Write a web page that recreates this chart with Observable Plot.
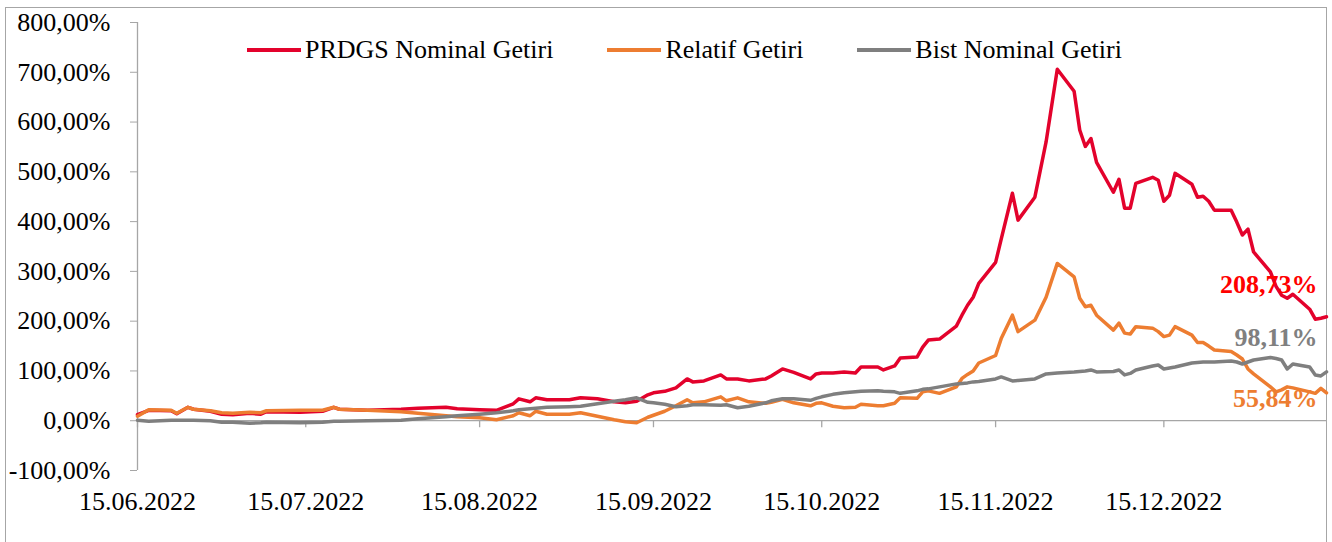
<!DOCTYPE html>
<html><head><meta charset="utf-8">
<script src="https://cdn.jsdelivr.net/npm/d3@7"></script>
<script src="https://cdn.jsdelivr.net/npm/@observablehq/plot@0.6"></script>
<style>
body{margin:0;background:#fff;}
#wrap{position:relative;width:1332px;height:542px;overflow:hidden;font-family:"Liberation Serif","Times New Roman",serif;background:#fff;}
#frame{position:absolute;left:5px;top:7px;width:1322px;height:600px;border:1px solid #A6A6A6;box-sizing:border-box;}
#chart{position:absolute;left:0;top:0;}
#legend{position:absolute;left:247px;top:35px;display:flex;gap:54px;font-size:26px;line-height:30px;color:#000;}
.item{display:flex;align-items:center;gap:4px;white-space:nowrap;}
.sw{width:54px;height:4px;}
</style>
</head><body>
<div id="wrap"><div id="frame"></div><div id="chart"></div><div id="legend"></div></div>
<script>
const seriesNames = ["PRDGS Nominal Getiri", "Relatif Getiri", "Bist Nominal Getiri"];
const seriesColors = ["#E3022C", "#ED7D31", "#7F7F7F"];
const labelColors = ["#FF0000", "#ED7D31", "#808080"];

const dates = ["2022-06-15","2022-06-17","2022-06-21","2022-06-22","2022-06-24","2022-06-25","2022-06-28","2022-06-30",
"2022-07-02","2022-07-05","2022-07-07","2022-07-08","2022-07-14","2022-07-18","2022-07-20","2022-07-21","2022-07-26",
"2022-08-01","2022-08-04","2022-08-09","2022-08-11","2022-08-15","2022-08-18","2022-08-21","2022-08-22","2022-08-24","2022-08-25","2022-08-27","2022-08-31",
"2022-09-02","2022-09-05","2022-09-08","2022-09-10","2022-09-12","2022-09-14","2022-09-15","2022-09-17","2022-09-19","2022-09-21","2022-09-22","2022-09-24","2022-09-27","2022-09-28","2022-09-30",
"2022-10-02","2022-10-05","2022-10-06","2022-10-08","2022-10-10","2022-10-13","2022-10-14","2022-10-15","2022-10-17","2022-10-19","2022-10-21","2022-10-22","2022-10-25","2022-10-26","2022-10-28","2022-10-29",
"2022-11-01","2022-11-02","2022-11-03","2022-11-05","2022-11-08","2022-11-09","2022-11-10","2022-11-11","2022-11-12","2022-11-15","2022-11-16","2022-11-18","2022-11-19","2022-11-22","2022-11-24","2022-11-26","2022-11-29","2022-11-30",
"2022-12-01","2022-12-02","2022-12-03","2022-12-06","2022-12-07","2022-12-08","2022-12-09","2022-12-10","2022-12-13","2022-12-14","2022-12-15","2022-12-16","2022-12-17","2022-12-20","2022-12-21","2022-12-22","2022-12-23","2022-12-24","2022-12-27","2022-12-28","2022-12-29","2022-12-30","2022-12-31",
"2023-01-03","2023-01-04","2023-01-05","2023-01-06","2023-01-07","2023-01-10","2023-01-11","2023-01-12","2023-01-13"];

const prdgs = [12,21,20,14,27,23,19,13,
12,15,13,18,17,19,27,23,21,
23,25,27,24,22,21,34,44,38,46,42,42,
46,44,38,36,39,52,56,59,66,84,78,80,92,84,84,
80,84,90,104,97,84,94,96,96,98,96,108,108,102,110,126,
128,148,162,164,190,212,232,248,276,318,365,457,403,449,560,706,662,584,
551,567,519,459,485,427,427,477,489,483,441,453,497,475,449,451,441,423,423,399,373,385,339,
299,270,252,246,254,224,204,206,208.73];

const relatif = [9,22,21,15,27,23,20,16,
15,17,16,20,21,21,27,23,21,
18,15,10,8,6,2,10,16,10,19,13,13,
16,9,2,-2,-4,7,11,19,30,42,36,38,48,40,46,
38,35,37,43,36,30,35,36,29,26,27,33,30,30,35,46,
45,58,60,55,68,85,93,100,116,131,165,212,179,202,248,316,289,246,
229,232,212,182,196,176,174,189,186,179,169,172,189,172,157,157,150,142,139,132,124,104,94,
68,58,62,68,66,58,55,65,55.84];

const bist = [1,-1,1,1,1,1,0,-3,
-3,-5,-4,-3,-4,-3,-1,-1,0,
1,4,8,10,13,16,20,22,24,25,27,28,
29,34,39,42,46,37,36,33,28,30,32,32,31,32,26,
29,36,40,44,44,41,45,48,53,56,58,59,60,59,58,55,
60,63,64,68,74,75,76,78,79,84,88,80,81,84,94,96,98,99,
100,102,98,99,102,92,95,102,110,112,104,106,108,116,117,118,118,118,120,118,114,118,122,
127,125,122,104,114,108,92,90,98.11];

const yTicks = [-100,0,100,200,300,400,500,600,700,800];
const xTickLabels = ["2022-06-15","2022-07-15","2022-08-15","2022-09-15","2022-10-15","2022-11-15","2022-12-15"];
const xDomainStr = ["2022-06-15","2023-01-13"];

const parse = d3.utcParse("%Y-%m-%d");
const loc = d3.formatLocale({decimal: ",", thousands: ".", grouping: [3], currency: ["", ""], minus: "-"});
const pct = v => loc.format(".2f")(v) + "%";
const allSeries = [prdgs, relatif, bist];
const rows = allSeries.map((vals) => dates.map((d, i) => ({date: parse(d), value: vals[i]})));
const xTicks = xTickLabels.map(parse);
const axisColor = "#A6A6A6";
const font = "'Liberation Serif','Times New Roman',serif";

// vertical offsets of the end labels (prdgs, relatif, bist)
const labelDy = [-32, 6, -34];

const plot = Plot.plot({
  width: 1332, height: 542,
  marginLeft: 137, marginRight: 6, marginTop: 22, marginBottom: 72,
  style: {fontFamily: font, fontSize: "26px", color: "#000", background: "transparent", overflow: "visible"},
  x: {type: "utc", domain: xDomainStr.map(parse)},
  y: {domain: [-100, 800]},
  marks: [
    Plot.ruleY([0], {stroke: axisColor, strokeWidth: 1.3}),
    Plot.ruleX([parse(xDomainStr[0])], {stroke: axisColor, strokeWidth: 1.3}),
    Plot.ruleX(xTicks, {x: d => d, y1: 0, y2: 0, insetBottom: -7, stroke: axisColor, strokeWidth: 1.3}),
    Plot.axisY({ticks: yTicks, tickFormat: pct, tickSize: 7, tickPadding: 20, fontSize: 26, stroke: axisColor, fill: "#000", label: null}),
    Plot.axisX({ticks: xTicks, tickFormat: d3.utcFormat("%d.%m.%Y"), tickSize: 0, tickPadding: 21, fontSize: 26, fill: "#000", label: null}),
    ...rows.map((r, k) => Plot.line(r, {x: "date", y: "value", stroke: seriesColors[k], strokeWidth: 3.5, strokeLinejoin: "round"})),
    ...allSeries.map((vals, k) => Plot.text([{date: parse(dates[dates.length - 1]), value: vals[vals.length - 1]}], {
      x: "date", y: "value", text: d => pct(d.value), textAnchor: "end", dx: -9, dy: labelDy[k],
      fill: labelColors[k], fontWeight: "bold", fontSize: 26
    }))
  ]
});
document.getElementById("chart").appendChild(plot);

const legend = document.getElementById("legend");
seriesNames.forEach((name, k) => {
  const it = document.createElement("div");
  it.className = "item";
  const sw = document.createElement("div");
  sw.className = "sw";
  sw.style.background = seriesColors[k];
  const tx = document.createElement("span");
  tx.textContent = name;
  it.appendChild(sw); it.appendChild(tx);
  legend.appendChild(it);
});
</script>
</body></html>
